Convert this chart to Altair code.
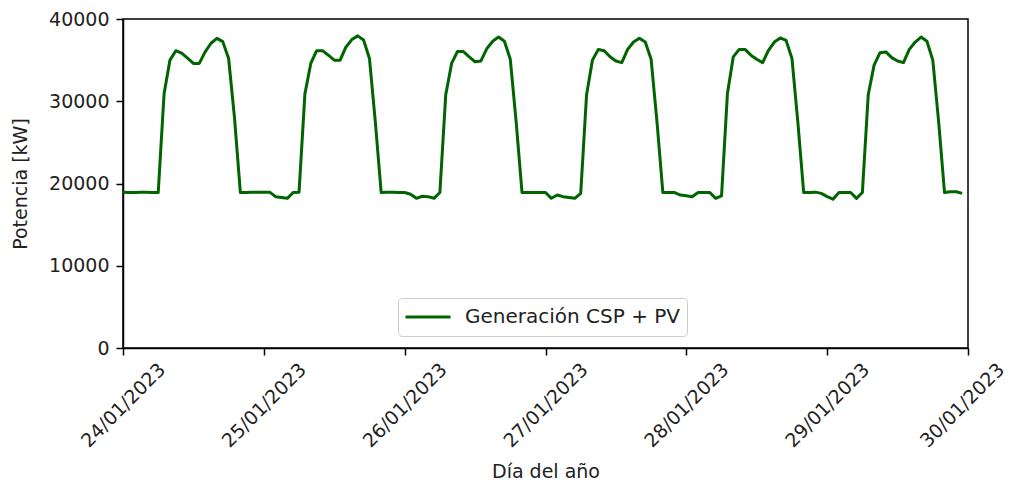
import altair as alt
import pandas as pd

# Hourly generation (kW), 24/01/2023 00:00 .. 29/01/2023 23:00
day1 = [18950, 18900, 18900, 18950, 18950, 18900, 18900, 30900, 35000, 36150, 35850, 35250,
        34600, 34600, 36000, 37050, 37650, 37250, 35200, 28000, 18900, 18900, 18950, 18950]
day2 = [18950, 18950, 18400, 18300, 18200, 18900, 18950, 30900, 34600, 36150, 36150, 35600,
        35000, 35000, 36600, 37500, 37950, 37450, 35200, 27500, 18900, 18950, 18950, 18900]
day3 = [18900, 18700, 18200, 18450, 18400, 18200, 18900, 30800, 34600, 36050, 36050, 35400,
        34800, 34900, 36400, 37300, 37800, 37300, 35100, 27500, 18900, 18900, 18900, 18900]
day4 = [18900, 18200, 18600, 18400, 18300, 18200, 18800, 30800, 35000, 36300, 36150, 35400,
        34900, 34700, 36300, 37200, 37650, 37200, 35100, 27500, 18900, 18900, 18900, 18600]
day5 = [18500, 18400, 18900, 18900, 18900, 18200, 18500, 30900, 35400, 36300, 36300, 35600,
        35100, 34700, 36200, 37200, 37700, 37400, 35200, 27500, 18900, 18900, 18950, 18800]
day6 = [18400, 18100, 18900, 18900, 18900, 18200, 18900, 30800, 34400, 35900, 36000, 35300,
        34900, 34700, 36300, 37200, 37800, 37300, 35000, 27500, 18900, 19000, 19000, 18800]

tick_hours = [0, 24, 48, 72, 96, 120, 144]
tick_labels = ["24/01/2023", "25/01/2023", "26/01/2023", "27/01/2023",
               "28/01/2023", "29/01/2023", "30/01/2023"]
y_ticks = [0, 10000, 20000, 30000, 40000]
series_name = "Generación CSP + PV"

values = day1 + day2 + day3 + day4 + day5 + day6
df = pd.DataFrame({
    "hora": list(range(len(values))),
    "potencia": values,
    "serie": [series_name] * len(values),
})

FONT = "DejaVu Sans"
FS = 19

label_expr = "[" + ",".join("'" + t + "'" for t in tick_labels) + "][round(datum.value / 24)]"

chart = alt.Chart(df).mark_line(strokeWidth=3, strokeJoin="round").encode(
    x=alt.X("hora:Q",
            scale=alt.Scale(domain=[0, 144], nice=False, zero=False),
            axis=alt.Axis(values=tick_hours, labelExpr=label_expr,
                          title="Día del año",
                          labelAngle=-45, labelAlign="center", labelBaseline="middle",
                          labelPadding=50, tickSize=7, tickWidth=1.5,
                          labelOffset={"condition": {"test": "datum.value == 144", "value": -6},
                                       "value": 0},
                          titleY=129, titleBaseline="alphabetic",
                          labelOverlap=False, labelBound=False, labelFlush=False)),
    y=alt.Y("potencia:Q",
            scale=alt.Scale(domain=[0, 40000], nice=False),
            axis=alt.Axis(values=y_ticks, format="d", title="Potencia [kW]",
                          tickSize=7, tickWidth=1.5, labelPadding=7,
                          titleX=-103, titleY=164.5, titleAngle=-90,
                          titleAlign="center", titleBaseline="middle")),
    color=alt.Color("serie:N",
                    scale=alt.Scale(range=["#006400"]),
                    legend=alt.Legend(title=None, orient="none", legendX=275, legendY=279,
                                      symbolType="stroke", symbolSize=2025,
                                      symbolStrokeWidth=3, labelFontSize=20, labelFont=FONT,
                                      labelColor="#222222", labelLimit=400,
                                      clipHeight=26,
                                      labelOffset=13, padding=6, cornerRadius=4,
                                      strokeColor="#cccccc", fillColor="white")),
).properties(
    width=845, height=329,
    autosize=alt.AutoSizeParams(type="none"),
    padding={"left": 115, "top": 11, "right": 40, "bottom": 135},
).configure_view(
    stroke="black", strokeWidth=1.5
).configure_axis(
    grid=False, domainColor="black", domainWidth=1.5, tickColor="black",
    labelFont=FONT, titleFont=FONT, labelFontSize=FS, titleFontSize=FS,
    labelColor="#222222", titleColor="#222222", titleFontWeight="normal"
)

chart.save("out.html", embed_options={"renderer": "svg", "actions": False})
